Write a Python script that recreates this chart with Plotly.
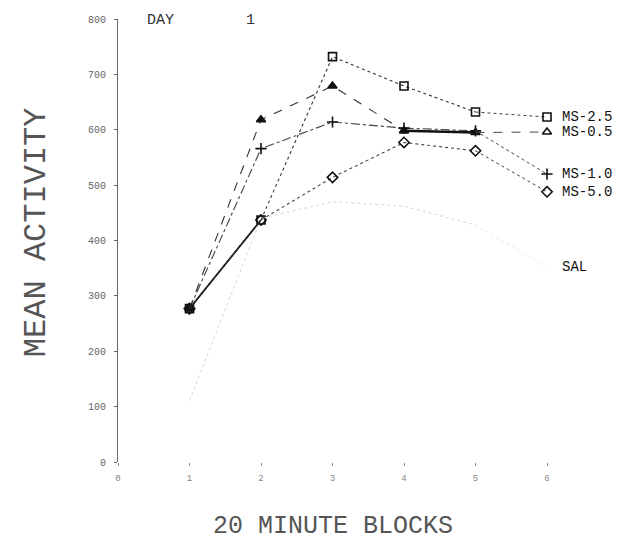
import plotly.graph_objects as go

# ---- data ----
blocks = [1, 2, 3, 4, 5]
series_names = ["MS-2.5", "MS-0.5", "MS-1.0", "MS-5.0", "SAL"]
ms_2_5 = [277, 437, 732, 679, 632]
ms_0_5 = [277, 618, 679, 598, 595]
ms_1_0 = [277, 566, 614, 603, 598]
ms_5_0 = [277, 437, 514, 577, 562]
sal = [111, 440, 470, 462, 428]
label_block = 6
label_values = [623, 596, 520, 488, 352]
y_ticks = [0, 100, 200, 300, 400, 500, 600, 700, 800]
x_ticks = [0, 1, 2, 3, 4, 5, 6]

all_series = [ms_2_5, ms_0_5, ms_1_0, ms_5_0, sal]
markers = ["square-open", "triangle-up", "cross-thin-open", "diamond-open", None]
end_markers = ["square-open", "triangle-up-open", "cross-thin-open", "diamond-open", None]
dashes = ["dot", "dash", "dashdot", "dot", "dot"]
widths = [1.1, 1.1, 1.1, 1.1, 0.8]
line_colors = ["#333", "#333", "#444", "#444", "#ccc"]
conn_dash = ["dot", "dash", "dot", "dot", "dot"]

fig = go.Figure()
for name, vals, mk, emk, ds, w, lc, cd, lv in zip(series_names, all_series, markers, end_markers,
                                                 dashes, widths, line_colors, conn_dash,
                                                 label_values):
    fig.add_trace(go.Scatter(
        x=blocks, y=vals, mode="lines+markers" if mk else "lines",
        line=dict(color=lc, width=w, dash=ds),
        marker=dict(symbol=mk or "circle", size=8, color="#111",
                    line=dict(width=1.6, color="#111")),
        showlegend=False, cliponaxis=False))
    # connector from block 5 to the end label
    fig.add_trace(go.Scatter(
        x=[blocks[-1], label_block], y=[vals[-1], lv],
        mode="lines", line=dict(color="#999" if name == "SAL" else "#444",
                                 width=1, dash=cd),
        showlegend=False, cliponaxis=False,
        opacity=0.2 if name == "SAL" else 1))
    if emk:
        fig.add_trace(go.Scatter(
            x=[label_block], y=[lv], mode="markers",
            marker=dict(symbol=emk, size=8, color="#111",
                        line=dict(width=1.6, color="#111")),
            showlegend=False, cliponaxis=False))
    fig.add_annotation(x=label_block, y=lv, xref="x", yref="y", text=name,
                       showarrow=False, xanchor="left", xshift=13,
                       font=dict(family="Liberation Mono", size=14, color="#111"))

# bold solid segment of MS-0.5 between blocks 4 and 5, as in the original
fig.add_trace(go.Scatter(x=blocks[3:5], y=ms_0_5[3:5], mode="lines",
                         line=dict(color="#111", width=2.5), showlegend=False))
# bold start of the common segment between blocks 1 and 2
fig.add_trace(go.Scatter(x=blocks[0:2], y=ms_2_5[0:2], mode="lines",
                         line=dict(color="#222", width=1.8), showlegend=False))

fig.update_layout(
    width=623, height=541,
    margin=dict(l=110, r=84, t=6, b=87),
    paper_bgcolor="white", plot_bgcolor="white",
    font=dict(family="Liberation Mono", color="#444"),
    xaxis=dict(range=[0, 6], tickvals=x_ticks, ticktext=[str(v) for v in x_ticks],
               showgrid=False, zeroline=False, showline=False,
               ticks="outside", ticklen=3, tickcolor="#888",
               tickfont=dict(size=9, color="#888"), ticklabelstandoff=4),
    yaxis=dict(range=[0, 800], tickvals=y_ticks, ticktext=[str(v) for v in y_ticks],
               showgrid=False, zeroline=False, showline=True, linecolor="#666",
               linewidth=1, ticks="outside", ticklen=3, tickcolor="#666",
               tickfont=dict(size=10, color="#666"), ticklabelstandoff=6),
)

fig.add_annotation(x=0.063, y=1.0, xref="paper", yref="paper", text="DAY        1",
                   showarrow=False, xanchor="left", yanchor="bottom", yshift=-12,
                   font=dict(family="Liberation Mono", size=15, color="#333"))
fig.add_annotation(x=0.5, y=0, xref="paper", yref="paper", text="20 MINUTE BLOCKS",
                   showarrow=False, xanchor="center", yanchor="top", yshift=-48,
                   font=dict(family="Liberation Mono", size=25, color="#555"))
fig.add_annotation(x=-0.19, y=0.52, xref="paper", yref="paper", text="MEAN ACTIVITY",
                   showarrow=False, textangle=-90, xanchor="center", yanchor="middle",
                   font=dict(family="Liberation Mono", size=32, color="#555"))

fig.write_html("out.html")
